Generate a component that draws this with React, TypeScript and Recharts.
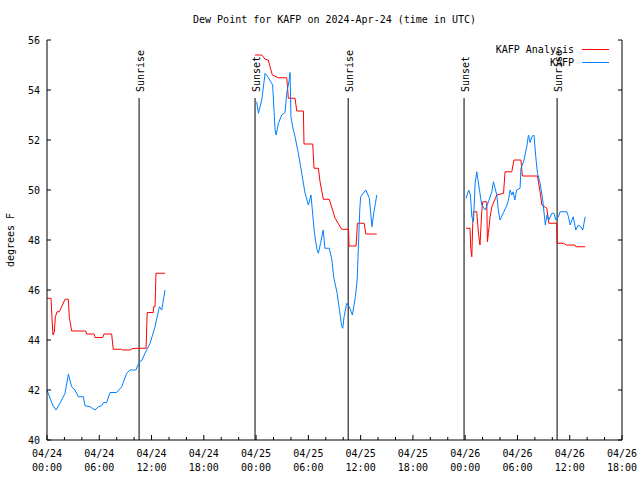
import React from 'react';
import { LineChart, Line, XAxis, YAxis, ReferenceLine, Legend } from 'recharts';

const FONT = '"DejaVu Sans Mono", monospace';

// hours since 2024-04-24 00:00 UTC, null marks a gap in the record
const analysisHours = [
  0, 0.46, 0.57, 0.69, 0.84, 0.96, 1.15, 1.42, 2.07, 2.45, 2.56, 2.72, 2.83, 4.44, 4.55, 5.4, 5.51,
  6.39, 6.54, 7.42, 7.6, 8.57, 8.65, 9.6, 9.72, 10.37, 11.37, 11.5, 12.2, 12.22, 12.4, 12.45, 12.51, 13.55,
  18,
  23.88, 24.65, 25.03, 25.4, 25.6, 25.87, 26.56, 27.52, 27.7, 28.47, 28.67, 29.43, 29.5, 30.5, 30.65,
  31.15, 31.34, 31.72, 32.4, 33.07, 33.83, 34.6, 34.67, 35.48, 35.63, 36.4, 36.6, 37.85,
  42,
  48.1, 48.56, 48.64, 48.76, 48.87, 48.95, 49.33, 49.52, 49.7, 49.9, 50.02, 50.48, 50.55, 50.67, 50.86,
  51.06, 51.63, 52.4, 52.58, 53.35, 53.6, 54.4, 54.57, 56.3, 56.4, 56.6, 56.8, 57.37, 57.6, 58.5, 58.55,
  59.3, 59.6, 60.6, 60.7, 61.77,
];
const analysisDew = [
  45.67, 45.67, 44.9, 44.2, 44.33, 44.93, 45.13, 45.13, 45.63, 45.63, 44.9, 44.6, 44.36, 44.36, 44.24, 44.24, 44.1,
  44.1, 44.24, 44.24, 43.63, 43.63, 43.6, 43.6, 43.65, 43.67, 43.67, 45.1, 45.1, 45.33, 45.33, 45.9, 46.67, 46.67,
  null,
  55.4, 55.4, 55.23, 55.2, 54.93, 54.6, 54.49, 54.49, 53.67, 53.67, 53.16, 53.16, 51.84, 51.84, 50.87,
  50.87, 50.33, 49.63, 49.63, 48.87, 48.43, 48.43, 47.76, 47.76, 48.67, 48.67, 48.24, 48.24,
  null,
  48.47, 48.47, 47.67, 47.33, 48.67, 49.13, 49.13, 48.27, 47.8, 49.13, 49.53, 49.53, 47.93, 48.3, 48.93,
  49.33, 49.8, 49.87, 50.73, 50.73, 51.2, 51.2, 50.56, 50.56, 50.33, 49.93, 49.4, 49.27, 48.67, 48.67, 47.87,
  47.87, 47.8, 47.8, 47.73, 47.73,
];

const obsHours = [
  0, 0.65, 1.03, 1.49, 2.07, 2.45, 2.83, 3.2, 3.6, 4.17, 4.36, 4.94, 5.51, 5.9, 6.27, 6.47, 6.85, 7.23,
  8.0, 8.57, 9.15, 9.53, 10.2, 10.6, 10.87, 11.25, 11.83, 12.4, 12.9, 13.17, 13.55,
  18,
  24.07, 24.27, 24.65, 25.03, 25.4, 25.9, 26.18, 26.3, 26.56, 26.94, 27.32, 27.52, 27.8, 27.9, 28.0, 28.2,
  28.47, 28.85, 29.24, 29.62, 30.0, 30.3, 30.7, 31.0, 31.15, 31.4, 31.7, 31.9, 32.4, 32.7, 32.9, 33.3,
  33.6, 33.8, 33.95, 34.1, 34.4, 34.7, 35.05, 35.4, 35.6, 35.9, 36.0, 36.3, 36.6, 37.0, 37.3, 37.5, 37.7, 37.85,
  42,
  48.1, 48.4, 48.6, 48.76, 48.95, 49.14, 49.33, 49.64, 49.9, 50.3, 50.67, 51.06, 51.24, 51.63, 51.8, 52.0,
  52.4, 52.8, 52.96, 53.16, 53.35, 53.5, 53.7, 53.9, 54.3, 54.4, 54.7, 55.07, 55.26, 55.45, 55.65, 55.9,
  56.1, 56.3, 56.6, 56.9, 57.2, 57.4, 57.6, 57.95, 58.2, 58.4, 58.7, 58.9, 59.67, 59.85, 60.05, 60.4, 60.7,
  61.0, 61.27, 61.5, 61.77,
];
const obsDew = [
  42.0, 41.4, 41.2, 41.47, 41.87, 42.63, 42.13, 42.0, 41.73, 41.73, 41.37, 41.33, 41.2, 41.33, 41.37, 41.5, 41.5, 41.9,
  41.9, 42.13, 42.67, 42.8, 42.8, 43.13, 43.17, 43.47, 43.87, 44.53, 45.33, 45.2, 46.0,
  null,
  53.53, 53.07, 53.6, 54.67, 54.5, 54.2, 52.4, 52.2, 52.67, 53.0, 53.1, 53.87, 54.4, 54.7, 52.93, 52.53,
  52.13, 51.47, 50.67, 49.87, 49.4, 49.8, 48.27, 47.6, 47.47, 47.87, 48.4, 47.67, 47.67, 47.2, 46.53, 45.87,
  45.13, 44.6, 44.47, 44.93, 45.47, 45.33, 45.0, 45.73, 46.4, 49.2, 49.73, 49.87, 50.0, 49.67, 48.53, 49.07, 49.47, 49.8,
  null,
  49.67, 50.0, 49.8, 48.93, 48.73, 50.27, 50.73, 50.0, 49.4, 49.2, 49.53, 49.93, 50.33, 49.8, 49.2, 48.8,
  49.1, 49.4, 49.6, 50.0, 49.8, 49.93, 49.6, 50.0, 50.07, 50.87, 51.13, 51.73, 52.2, 51.9, 52.13, 52.2,
  51.33, 50.67, 50.27, 49.6, 48.6, 49.0, 48.8, 49.07, 49.07, 48.8, 48.93, 49.13, 49.13, 48.93, 48.6, 48.93, 48.4,
  48.6, 48.53, 48.4, 48.93,
];

const sunHours = [10.57, 23.88, 34.57, 47.87, 58.55];
const sunLabels = ['Sunrise', 'Sunset', 'Sunrise', 'Sunset', 'Sunrise'];

const majorHours = [0, 6, 12, 18, 24, 30, 36, 42, 48, 54, 60, 66];
const majorDates = ['04/24', '04/24', '04/24', '04/24', '04/25', '04/25', '04/25', '04/25', '04/26', '04/26', '04/26', '04/26'];
const majorTimes = ['00:00', '06:00', '12:00', '18:00', '00:00', '06:00', '12:00', '18:00', '00:00', '06:00', '12:00', '18:00'];
const minorHours = [
  0, 2, 4, 6, 8, 10, 12, 14, 16, 18, 20, 22, 24, 26, 28, 30, 32, 34,
  36, 38, 40, 42, 44, 46, 48, 50, 52, 54, 56, 58, 60, 62, 64, 66,
];
const yTicks = [40, 42, 44, 46, 48, 50, 52, 54, 56];

const analysisData = analysisHours.map((h, i) => ({ h, v: analysisDew[i] }));
const obsData = obsHours.map((h, i) => ({ h, v: obsDew[i] }));

const BottomTick = ({ x, y, payload }: any) => {
  const i = majorHours.indexOf(payload.value);
  return (
    <g>
      <line x1={x} y1={y} x2={x} y2={y - (i >= 0 ? 5 : 3)} stroke="#000" />
      {i >= 0 && (
        <text x={x} textAnchor="middle" fontFamily={FONT} fontSize={10} fill="#000">
          <tspan x={x} y={y + 17}>{majorDates[i]}</tspan>
          <tspan x={x} y={y + 31}>{majorTimes[i]}</tspan>
        </text>
      )}
    </g>
  );
};

const TopTick = ({ x, y, payload }: any) => {
  const major = majorHours.includes(payload.value);
  return <line x1={x} y1={y} x2={x} y2={y + (major ? 5 : 3)} stroke="#000" />;
};

const LeftTick = ({ x, y, payload }: any) => (
  <g>
    <line x1={x} y1={y} x2={x + 4} y2={y} stroke="#000" />
    <text x={x - 7} y={y + 4} textAnchor="end" fontFamily={FONT} fontSize={10} fill="#000">
      {payload.value}
    </text>
  </g>
);

const RightTick = ({ x, y }: any) => <line x1={x} y1={y} x2={x - 4} y2={y} stroke="#000" />;

const sunShape = (label: string) => (p: any) => (
  <g>
    <line x1={p.x1} y1={p.y1} x2={p.x2} y2={p.y2} stroke="#000" strokeWidth={1} />
    <text
      x={p.x1 + 5}
      y={Math.min(p.y1, p.y2) - 6}
      transform={`rotate(-90, ${p.x1 + 5}, ${Math.min(p.y1, p.y2) - 6})`}
      fontFamily={FONT}
      fontSize={10}
      fill="#000"
    >
      {label}
    </text>
  </g>
);

const renderLegend = () => (
  <svg width={130} height={30} style={{ display: 'block' }}>
    <text x={84} y={11} textAnchor="end" fontFamily={FONT} fontSize={10} fill="#000">KAFP Analysis</text>
    <line x1={92} y1={7.5} x2={119} y2={7.5} stroke="#ff0000" />
    <text x={84} y={24} textAnchor="end" fontFamily={FONT} fontSize={10} fill="#000">KAFP</text>
    <line x1={92} y1={20.5} x2={119} y2={20.5} stroke="#0080ff" />
  </svg>
);

export default function App() {
  return (
    <div style={{ position: 'absolute', left: 0, top: 0, width: 640, height: 480, background: '#fff' }}>
      <div
        style={{
          position: 'absolute', left: 47, top: 13, width: 575, textAlign: 'center',
          fontFamily: FONT, fontSize: 10, color: '#000', lineHeight: '14px',
        }}
      >
        Dew Point for KAFP on 2024-Apr-24 (time in UTC)
      </div>
      <LineChart width={640} height={480} margin={{ top: 40, right: 0, bottom: 0, left: 0 }}>
        <XAxis
          dataKey="h" type="number" domain={[0, 66]} allowDataOverflow ticks={minorHours} interval={0}
          height={40} tickSize={0} tickMargin={0} tickLine={false} axisLine={{ stroke: '#000' }} tick={BottomTick}
        />
        <XAxis
          xAxisId="top" orientation="top" dataKey="h" type="number" domain={[0, 66]} allowDataOverflow
          ticks={minorHours} interval={0} height={0} tickSize={0} tickMargin={0} tickLine={false}
          axisLine={{ stroke: '#000' }} tick={TopTick}
        />
        <YAxis
          type="number" domain={[40, 56]} allowDataOverflow ticks={yTicks} interval={0} width={47}
          tickSize={0} tickMargin={0} tickLine={false} axisLine={{ stroke: '#000' }} tick={LeftTick}
          label={{ value: 'degrees F', angle: -90, position: 'center', dx: -13, fontFamily: FONT, fontSize: 10, fill: '#000' }}
        />
        <YAxis
          yAxisId="right" orientation="right" type="number" domain={[40, 56]} allowDataOverflow ticks={yTicks}
          interval={0} width={18} tickSize={0} tickMargin={0} tickLine={false} axisLine={{ stroke: '#000' }}
          tick={RightTick}
        />
        {sunHours.map((t, i) => (
          <ReferenceLine
            key={`sun-${i}`}
            segment={[{ x: t, y: 53.68 }, { x: t, y: 40 }]}
            shape={sunShape(sunLabels[i])}
          />
        ))}
        <Line
          data={analysisData} dataKey="v" name="KAFP Analysis" type="linear" stroke="#ff0000"
          strokeWidth={1} dot={false} isAnimationActive={false}
        />
        <Line
          data={obsData} dataKey="v" name="KAFP" type="linear" stroke="#0080ff"
          strokeWidth={1} dot={false} isAnimationActive={false}
        />
        <Legend
          layout="horizontal" verticalAlign="middle" align="center" content={renderLegend}
          wrapperStyle={{ top: 42, left: 490, width: 130, height: 30 }}
        />
      </LineChart>
    </div>
  );
}
